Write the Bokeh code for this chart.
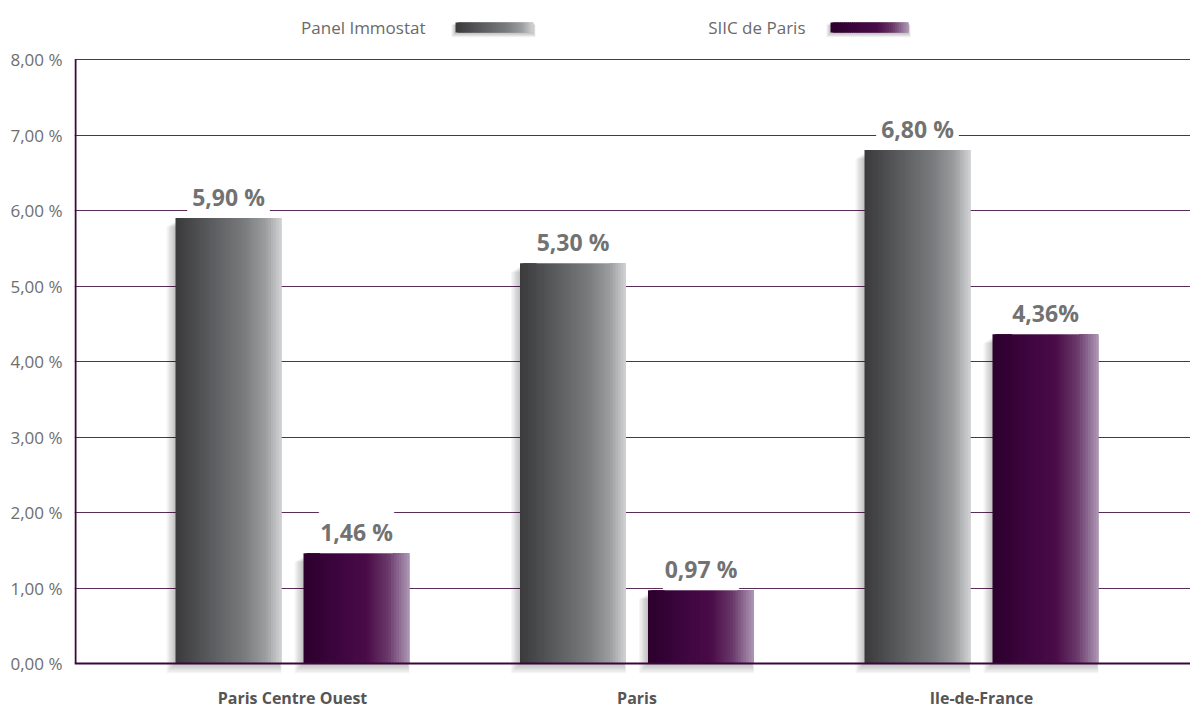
import numpy as np
from bokeh.plotting import figure
from bokeh.models import ColumnDataSource, FixedTicker, LabelSet, Range1d
from bokeh.core.properties import value
from bokeh.embed import file_html
from bokeh.resources import INLINE

# ---------------- data ----------------
categories = ["Paris Centre Ouest", "Paris", "Ile-de-France"]
series_names = ["Panel Immostat", "SIIC de Paris"]
panel_immostat = [5.90, 5.30, 6.80]
siic_de_paris = [1.46, 0.97, 4.36]
panel_labels = ["5,90 %", "5,30 %", "6,80 %"]
siic_labels = ["1,46 %", "0,97 %", "4,36%"]
y_ticks = [0, 1, 2, 3, 4, 5, 6, 7, 8]
y_tick_labels = ["0,00 %", "1,00 %", "2,00 %", "3,00 %", "4,00 %",
                 "5,00 %", "6,00 %", "7,00 %", "8,00 %"]

# ---------------- layout constants ----------------
W, H = 1190, 707
LEFT = 74
PX_X = 344.5            # pixels per category
PX_Y = 75.5             # pixels per 1 %
FIRST_CENTER_PX = 292
ZERO_PX = 663

x_start = (LEFT - FIRST_CENTER_PX) / PX_X
x_end = x_start + (W - LEFT) / PX_X
y_start = -(H - ZERO_PX) / PX_Y
y_end = ZERO_PX / PX_Y

def dx(px):
    return px / PX_X

def dy(px):
    return px / PX_Y

BAR_W = dx(106)
OFFSET = dx(64)

gray_stops = [(0.0, "#3a3a3c"), (0.35, "#5c5d5f"), (0.65, "#7a7b7d"), (0.85, "#9c9d9f"), (1.0, "#d2d3d5")]
purple_stops = [(0.0, "#2c002c"), (0.35, "#3e0640"), (0.6, "#4a0c48"), (0.8, "#6a3a6a"), (1.0, "#ae98b6")]

def interp(stops, t):
    for (t0, c0), (t1, c1) in zip(stops[:-1], stops[1:]):
        if t0 <= t <= t1:
            f = (t - t0) / (t1 - t0) if t1 > t0 else 0
            a = [int(c0[i:i + 2], 16) for i in (1, 3, 5)]
            b = [int(c1[i:i + 2], 16) for i in (1, 3, 5)]
            c = [round(a[k] + (b[k] - a[k]) * f) for k in range(3)]
            return "#%02x%02x%02x" % tuple(c)
    return stops[-1][1]

N = 40

def stripes(centers, width, bottoms, tops, stops):
    L, R, B, T, C = [], [], [], [], []
    for c, b, t in zip(centers, bottoms, tops):
        edge = c + width / 2
        for i in range(N):
            l = c - width / 2 + i * width / N
            L.append(l)
            R.append(min(l + 2.5 * width / N, edge))
            B.append(b)
            T.append(t)
            C.append(interp(stops, (i + 0.5) / N))
    return dict(left=L, right=R, bottom=B, top=T, color=C)

x_pos = np.arange(len(categories), dtype=float)
gray_x = x_pos - OFFSET
purple_x = x_pos + OFFSET

p = figure(width=W, height=H, output_backend="svg", toolbar_location=None,
           x_range=Range1d(x_start, x_end), y_range=Range1d(y_start, y_end),
           min_border_left=LEFT, min_border_right=0, min_border_top=0, min_border_bottom=0)
p.outline_line_color = None
p.background_fill_color = "white"
p.border_fill_color = "white"
p.xaxis.visible = False
p.xgrid.visible = False

yax = p.yaxis[0]
yax.ticker = FixedTicker(ticks=y_ticks)
yax.major_label_overrides = {t: l for t, l in zip(y_ticks, y_tick_labels)}
yax.axis_line_color = None
yax.major_tick_line_color = None
yax.minor_tick_line_color = None
yax.major_label_standoff = 6
yax.major_label_text_font = "Open Sans"
yax.major_label_text_font_size = "17px"
yax.major_label_text_color = "#6e6e6e"

p.ygrid.ticker = FixedTicker(ticks=y_ticks[1:])
p.ygrid.grid_line_color = "#5a2c5a"
p.ygrid.grid_line_width = 1

AXIS_COLOR = "#3a073a"

# shadows
for vals, xs in ((panel_immostat, gray_x), (siic_de_paris, purple_x)):
    for i in range(1, 8):
        p.quad(left=list(xs - BAR_W / 2 - dx(i * 1.3)), right=list(xs + BAR_W / 2 - dx(2) + dx(i * 0.3)),
               bottom=[-dy(i * 1.4)] * len(xs), top=[v - dy(3 + i * 0.8) for v in vals],
               fill_color="black", fill_alpha=0.035, line_color=None)

# bars with gradient
for vals, xs, stops in ((panel_immostat, gray_x, gray_stops), (siic_de_paris, purple_x, purple_stops)):
    src = ColumnDataSource(stripes(xs, BAR_W, [0] * len(xs), vals, stops))
    p.quad(left="left", right="right", bottom="bottom", top="top", fill_color="color",
           line_color=None, source=src)

# axes lines
p.segment(x0=[x_start + dx(1)], y0=[0], x1=[x_start + dx(1)], y1=[y_ticks[-1]],
          line_color=AXIS_COLOR, line_width=2)
p.segment(x0=[x_start], y0=[0], x1=[x_end], y1=[0], line_color=AXIS_COLOR, line_width=2)

# value labels
lab_src = ColumnDataSource(dict(x=list(gray_x) + list(purple_x),
                                y=panel_immostat + siic_de_paris,
                                text=panel_labels + siic_labels))
p.add_layout(LabelSet(x="x", y="y", text="text", source=lab_src, y_offset=12,
                      text_align="center", text_baseline="alphabetic",
                      text_font=value("Open Sans"), text_font_style="bold", text_font_size="23px",
                      text_color="#727272", background_fill_color="white",
                      border_line_color="white", border_line_width=10))

# category labels
p.text(x=list(x_pos), y=[-dy(34)] * len(x_pos), text=categories, text_align="center",
       text_baseline="middle", text_font=value("Open Sans"), text_font_style="bold",
       text_font_size="16px", text_color="#555555")

# legend
leg_y = y_end - dy(27)
leg_text_x = [x_start + dx(425 - LEFT), x_start + dx(805 - LEFT)]
p.text(x=leg_text_x, y=[leg_y] * 2, text=series_names, text_align="right",
       text_baseline="middle", text_font=value("Open Sans"), text_font_size="17px",
       text_color="#6a6a6a")
sw_w = dx(78)
sw_centers = [leg_text_x[0] + dx(30) + sw_w / 2, leg_text_x[1] + dx(25) + sw_w / 2]
sw_b, sw_t = leg_y - dy(5), leg_y + dy(5)
for c, stops in zip(sw_centers, (gray_stops, purple_stops)):
    for i in range(1, 5):
        p.quad(left=[c - sw_w / 2 - dx(i)], right=[c + sw_w / 2 + dx(i * 0.5)],
               bottom=[sw_b - dy(i * 1.2)], top=[sw_t - dy(2)],
               fill_color="black", fill_alpha=0.06, line_color=None)
    src = ColumnDataSource(stripes([c], sw_w, [sw_b], [sw_t], stops))
    p.quad(left="left", right="right", bottom="bottom", top="top", fill_color="color",
           line_color=None, source=src)

open("out.html", "w").write(file_html(p, INLINE))
